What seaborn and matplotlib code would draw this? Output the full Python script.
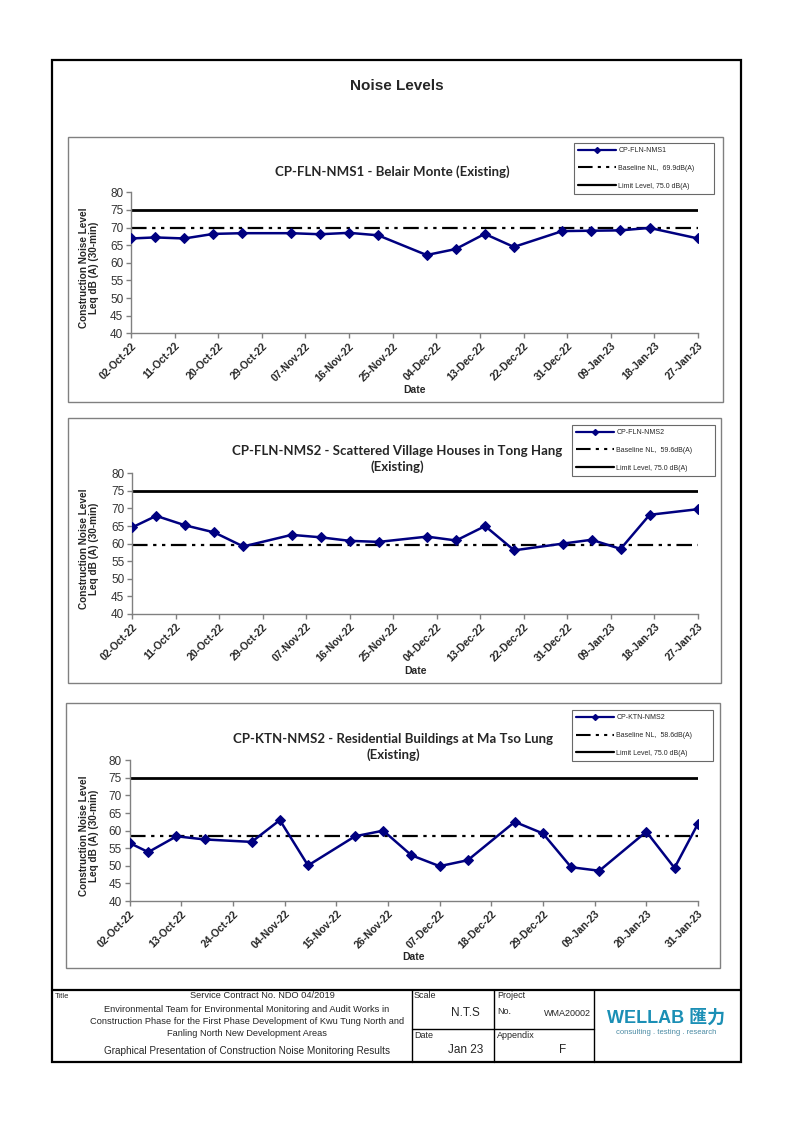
import pandas as pd
import seaborn as sns
import matplotlib.pyplot as plt
import matplotlib.dates as mdates
from matplotlib.lines import Line2D
from matplotlib.patches import Rectangle

# ==========================================
# 1. Data
# ==========================================
DATES_FLN = ['2022-10-02', '2022-10-07', '2022-10-13', '2022-10-19', '2022-10-25',
             '2022-11-04', '2022-11-10', '2022-11-16', '2022-11-22', '2022-12-02',
             '2022-12-08', '2022-12-14', '2022-12-20', '2022-12-30', '2023-01-05',
             '2023-01-11', '2023-01-17', '2023-01-27']
NMS1_VALUES = [66.9, 67.2, 66.9, 68.2, 68.4, 68.4, 68.1, 68.5, 67.8, 62.2,
               63.9, 68.2, 64.5, 69.0, 69.1, 69.2, 69.9, 66.9]
NMS2_VALUES = [64.6, 67.9, 65.2, 63.2, 59.2, 62.5, 61.8, 60.8, 60.5, 62.0,
               60.9, 65.0, 58.1, 60.0, 61.1, 58.5, 68.2, 69.8]

DATES_KTN = ['2022-10-02', '2022-10-06', '2022-10-12', '2022-10-18', '2022-10-28',
             '2022-11-03', '2022-11-09', '2022-11-19', '2022-11-25', '2022-12-01',
             '2022-12-07', '2022-12-13', '2022-12-23', '2022-12-29', '2023-01-04',
             '2023-01-10', '2023-01-20', '2023-01-26', '2023-01-31']
KTN_VALUES = [56.5, 53.9, 58.4, 57.5, 56.8, 63.0, 50.1, 58.4, 60.0, 53.0,
              49.9, 51.6, 62.5, 59.2, 49.6, 48.6, 59.7, 49.4, 62.0]

BASELINES = [69.9, 59.6, 58.6]
LIMIT = 75.0
STATIONS = ['CP-FLN-NMS1', 'CP-FLN-NMS2', 'CP-KTN-NMS2']
TITLES = ['CP-FLN-NMS1 - Belair Monte (Existing)',
          'CP-FLN-NMS2 - Scattered Village Houses in Tong Hang\n(Existing)',
          'CP-KTN-NMS2 - Residential Buildings at Ma Tso Lung\n(Existing)']

# ==========================================
# 2. Layout (page pixels)
# ==========================================
W, H = 794, 1123
NAVY = '#000080'
GRID_GRAY = '#808080'
BASE_DASH = (0, (7, 2.5, 1.5, 2.5, 1.5, 2.5))

sns.set_theme(style='white')
plt.rcParams['font.family'] = ['Liberation Sans', 'DejaVu Sans']


def fx(x):
    return x / W


def fy(y):
    return 1 - y / H


def frame(x0, y0, x1, y1, color, lw):
    fig.add_artist(Rectangle((fx(x0), fy(y1)), (x1 - x0) / W, (y1 - y0) / H,
                             transform=fig.transFigure, fill=False,
                             edgecolor=color, linewidth=lw))


def hline(x0, x1, y, lw=1.0):
    fig.add_artist(Line2D([fx(x0), fx(x1)], [fy(y), fy(y)], transform=fig.transFigure,
                          color='black', linewidth=lw))


def vline(x, y0, y1, lw=1.0):
    fig.add_artist(Line2D([fx(x), fx(x)], [fy(y0), fy(y1)], transform=fig.transFigure,
                          color='black', linewidth=lw))


def draw_chart(box, plot, dates, values, baseline, station, title, title_y,
               legend_box, x_end, step, ylabel_y, date_y):
    frame(*box, color=GRID_GRAY, lw=1.0)
    left, top, right, bottom = plot
    ax = fig.add_axes([fx(left), fy(bottom), (right - left) / W, (bottom - top) / H])
    df = pd.DataFrame({'Date': pd.to_datetime(dates), 'Level': values})

    ax.axhline(LIMIT, color='black', linewidth=2.0, zorder=2)
    ax.axhline(baseline, color='black', linewidth=1.6, linestyle=BASE_DASH, zorder=2)
    sns.lineplot(data=df, x='Date', y='Level', ax=ax, color=NAVY, marker='D',
                 markersize=5, markeredgecolor=NAVY, linewidth=1.8, zorder=3)

    start = pd.Timestamp('2022-10-02')
    end = pd.Timestamp(x_end)
    ax.set_xlim(start, end)
    ax.set_ylim(40, 80)
    ax.set_yticks(range(40, 81, 5))
    ax.set_xticks(pd.date_range(start, end, freq=f'{step}D'))
    ax.xaxis.set_major_formatter(mdates.DateFormatter('%d-%b-%y'))
    ax.set_xlabel('')
    ax.set_ylabel('')
    for side in ['top', 'right']:
        ax.spines[side].set_visible(False)
    for side in ['left', 'bottom']:
        ax.spines[side].set_color(GRID_GRAY)
        ax.spines[side].set_linewidth(1.0)
    ax.tick_params(axis='both', direction='out', length=3.5, width=1.0, color=GRID_GRAY,
                   bottom=True, left=True)
    ax.tick_params(axis='y', labelsize=8.5, labelcolor='#333333', pad=2)
    ax.tick_params(axis='x', labelsize=7.5, pad=2)
    for lab in ax.get_xticklabels():
        lab.set_rotation(45)
        lab.set_ha('right')
        lab.set_rotation_mode('anchor')
        lab.set_fontweight('bold')
    ax.patch.set_alpha(0)

    # chart title
    fig.text(fx(title[1]), fy(title_y), title[0], ha='center', va='center',
             fontsize=9.5, fontweight='bold', family=['Lato', 'DejaVu Sans'],
             linespacing=1.25)

    fig.text(fx(89), fy(ylabel_y), 'Construction Noise Level\nLeq dB (A) (30-min)',
             rotation=90, ha='center', va='center', fontsize=7.2, fontweight='bold',
             linespacing=1.1)
    fig.text(fx((left + right) / 2), fy(date_y), 'Date', ha='center', va='center',
             fontsize=7.5, fontweight='bold')

    # legend box
    lx0, ly0, lx1, ly1 = legend_box
    handles = [
        Line2D([], [], color=NAVY, marker='D', markersize=3, linewidth=1.6),
        Line2D([], [], color='black', linewidth=1.5, linestyle=BASE_DASH),
        Line2D([], [], color='black', linewidth=1.6),
    ]
    labels = [station, f'Baseline NL,  {baseline}dB(A)', f'Limit Level, {LIMIT:.1f} dB(A)']
    leg = ax.legend(handles, labels, loc='upper left',
                    bbox_to_anchor=(fx(lx0), fy(ly1), (lx1 - lx0) / W, (ly1 - ly0) / H),
                    bbox_transform=fig.transFigure, mode='expand', borderaxespad=0,
                    fontsize=5, handlelength=5.5, handletextpad=0.3, labelspacing=1.55,
                    frameon=True, fancybox=False, borderpad=0.6)
    leg.get_frame().set_edgecolor('#444444')
    leg.get_frame().set_linewidth(0.8)
    return ax


# ==========================================
# 3. Figure
# ==========================================
fig = plt.figure(figsize=(W / 100, H / 100), dpi=100)
fig.patch.set_facecolor('white')

frame(52, 60, 741, 1062, color='black', lw=1.6)
fig.text(fx(397), fy(86), 'Noise Levels', ha='center', va='center',
         fontsize=11, fontweight='bold')

draw_chart((68, 137, 723, 402), (131, 192.3, 698, 333.3), DATES_FLN, NMS1_VALUES,
           BASELINES[0], STATIONS[0], (TITLES[0], 392), 172,
           (574, 143, 714, 194), '2023-01-27', 9, 268, 390)
draw_chart((68, 418, 721, 683), (132, 473.3, 698, 614), DATES_FLN, NMS2_VALUES,
           BASELINES[1], STATIONS[1], (TITLES[1], 397), 459,
           (572, 425, 715, 470), '2023-01-27', 9, 549, 671)
draw_chart((66, 703, 720, 968), (129.5, 760.3, 698, 901), DATES_KTN, KTN_VALUES,
           BASELINES[2], STATIONS[2], (TITLES[2], 393), 747,
           (572, 710, 713, 758), '2023-01-31', 11, 836, 957)

# ==========================================
# 4. Title block
# ==========================================
hline(52, 741, 990, lw=1.6)
vline(412, 990, 1062)
vline(494, 990, 1062)
vline(594, 990, 1062)
hline(412, 594, 1029)

NARROW = ['Liberation Sans Narrow', 'Liberation Sans', 'DejaVu Sans']
fig.text(fx(55), fy(996), 'Title', ha='left', va='center', fontsize=5.5, family=NARROW)
title_lines = [
    ('Service Contract No. NDO 04/2019', 262, 996),
    ('Environmental Team for Environmental Monitoring and Audit Works in', 247, 1009),
    ('Construction Phase for the First Phase Development of Kwu Tung North and', 247, 1021),
    ('Fanling North New Development Areas', 247, 1033),
    ('Graphical Presentation of Construction Noise Monitoring Results', 247, 1051),
]
for txt, x, y in title_lines:
    size = 7.2 if y == 1051 else 6.7
    fig.text(fx(x), fy(y), txt, ha='center', va='center', fontsize=size, family=NARROW)

fig.text(fx(414), fy(996), 'Scale', ha='left', va='center', fontsize=6.5, family=NARROW)
fig.text(fx(465), fy(1013), 'N.T.S', ha='center', va='center', fontsize=8.5)
fig.text(fx(414), fy(1036), 'Date', ha='left', va='center', fontsize=6.5, family=NARROW)
fig.text(fx(466), fy(1050), 'Jan 23', ha='center', va='center', fontsize=8.5)
fig.text(fx(497), fy(996), 'Project', ha='left', va='center', fontsize=6.5, family=NARROW)
fig.text(fx(497), fy(1012), 'No.', ha='left', va='center', fontsize=6.5, family=NARROW)
fig.text(fx(591), fy(1014), 'WMA20002', ha='right', va='center', fontsize=6.5, family=NARROW)
fig.text(fx(497), fy(1036), 'Appendix', ha='left', va='center', fontsize=6.5, family=NARROW)
fig.text(fx(563), fy(1050), 'F', ha='center', va='center', fontsize=8.5)

fig.text(fx(666), fy(1018), 'WELLAB 匯力', ha='center', va='center', fontsize=13,
         fontweight='bold', color='#1b8fb5',
         family=['Liberation Sans', 'Noto Sans CJK TC', 'DejaVu Sans'])
fig.text(fx(666), fy(1032), 'consulting . testing . research', ha='center', va='center',
         fontsize=5.5, color='#4a8aa3')

fig.savefig('out.png', dpi=100, facecolor='white')
